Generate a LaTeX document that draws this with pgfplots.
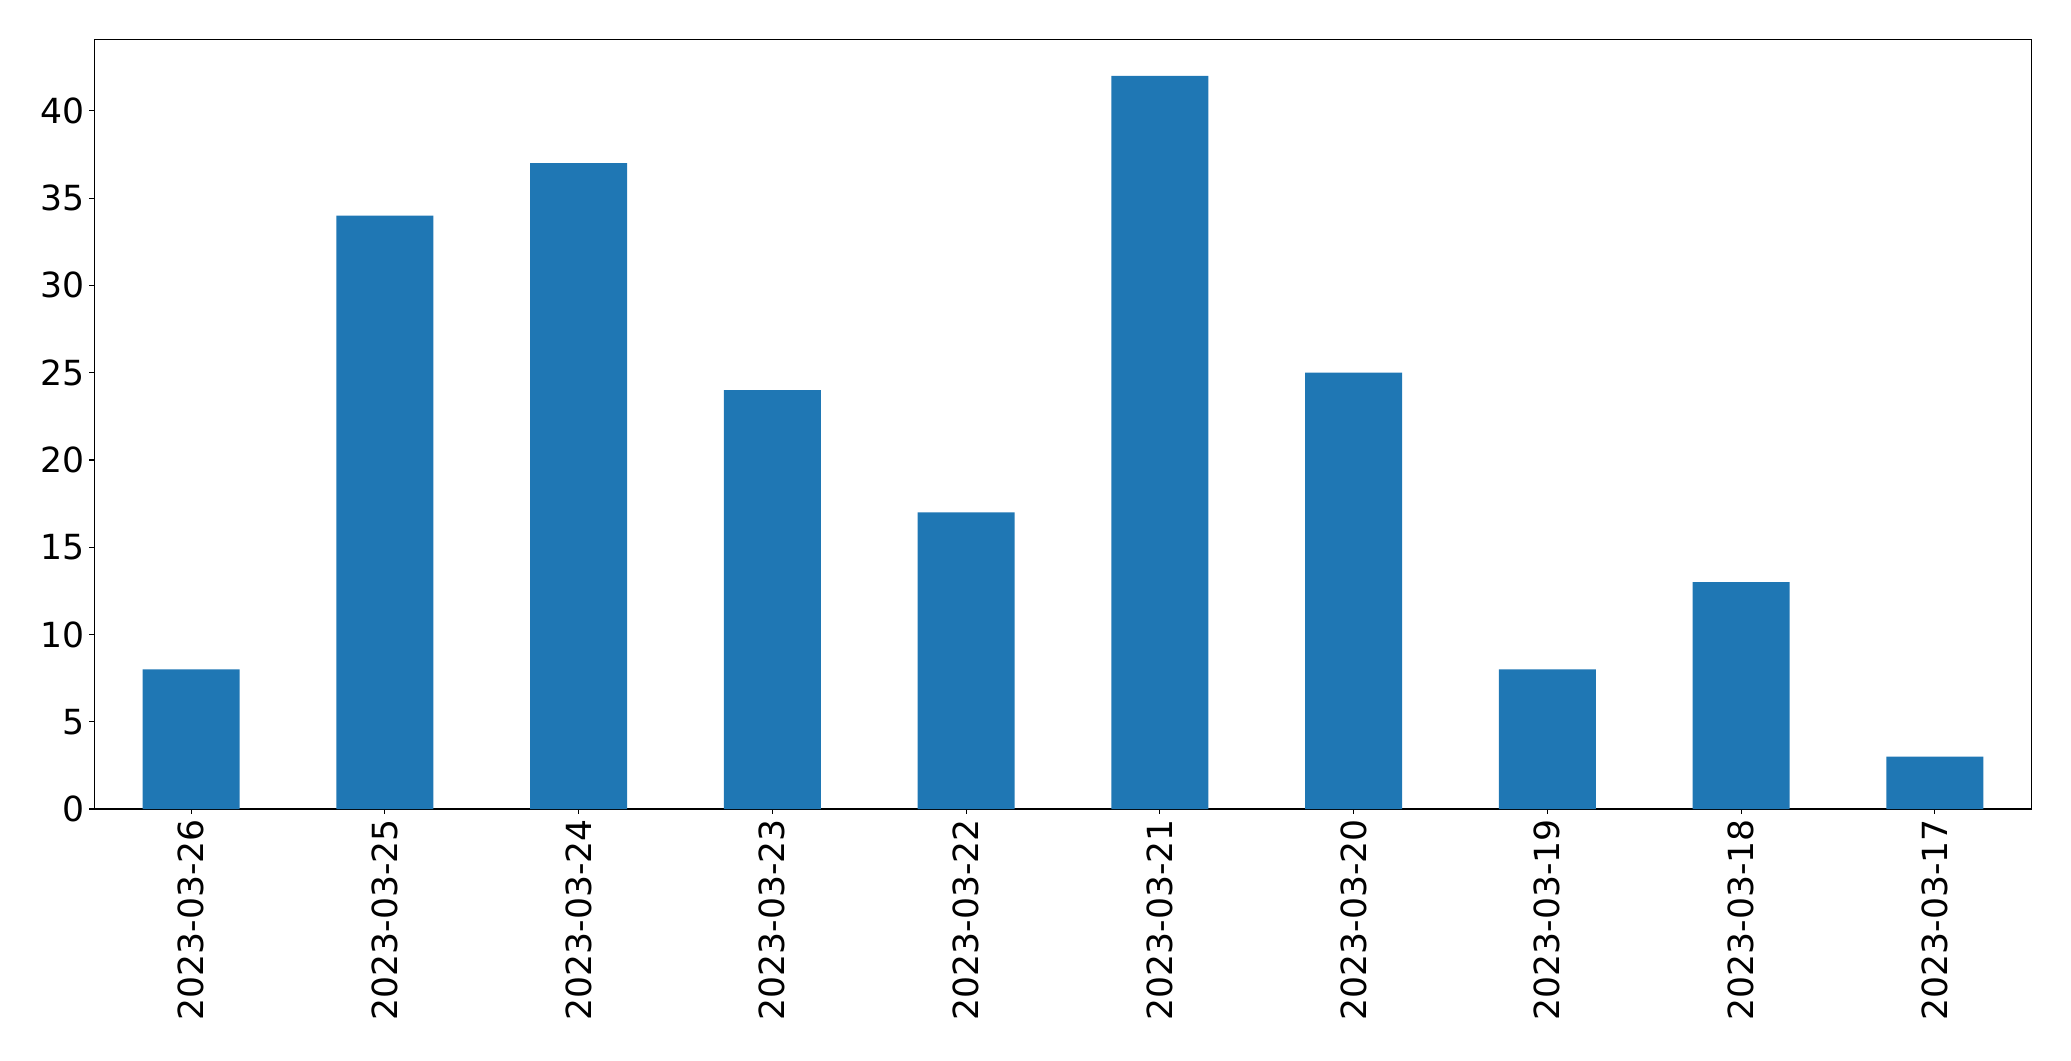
\documentclass[border=0pt]{standalone}
\usepackage{pgfplots}
\pgfplotsset{compat=1.18}
\usepackage{fontspec}
\setmainfont{DejaVu Sans}
\definecolor{mplblue}{HTML}{1F77B4}
\begin{document}
\begin{tikzpicture}
\begin{axis}[
  scale only axis,
  width=1394.9bp, height=554.2bp,
  xmin=-0.5, xmax=9.5, ymin=0, ymax=44.1,
  ybar, bar width=0.5, bar shift=0pt,
  xtick=data,
  xticklabels={2023-03-26,2023-03-25,2023-03-24,2023-03-23,2023-03-22,2023-03-21,2023-03-20,2023-03-19,2023-03-18,2023-03-17},
  ytick={0,5,10,15,20,25,30,35,40},
  tick align=outside,
  major tick length=3.5bp,
  tick style={black, line width=0.8bp},
  axis line style={black, line width=0.8bp},
  xtick pos=bottom, ytick pos=left,
  /pgf/number format/assume math mode=true,
  ticklabel style={font=\fontsize{25}{30}\selectfont},
  xticklabel style={rotate=90, anchor=east, inner sep=3.5bp},
  yticklabel style={inner sep=3.5bp},
  axis on top=false,
]
\addplot[fill=mplblue, draw=none] coordinates {(0,8) (1,34) (2,37) (3,24) (4,17) (5,42) (6,25) (7,8) (8,13) (9,3)};
\coordinate (A) at (rel axis cs:0,0);
\coordinate (B) at (rel axis cs:1,1);
\end{axis}
\pgfresetboundingbox
\path (A) ++(-67.9bp,-181.4bp) coordinate (C);
\path (B) ++(28.3bp,28.3bp) coordinate (D);
\useasboundingbox (C) rectangle (D);
\end{tikzpicture}
\end{document}
